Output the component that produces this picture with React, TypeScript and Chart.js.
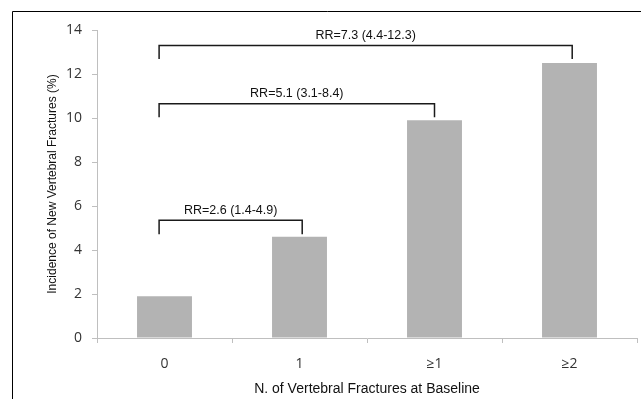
import React, { useEffect, useRef } from "react";
import { Chart, registerables } from "chart.js";

Chart.register(...registerables);

const categories = ["0", "1", "≥1", "≥2"];
const incidence = [1.9, 4.6, 9.9, 12.5];

const rrLabels = ["RR=2.6 (1.4-4.9)", "RR=5.1 (3.1-8.4)", "RR=7.3 (4.4-12.3)"];
const bracketFrom = [-0.04, -0.04, -0.04];
const bracketTo = [1.02, 2.0, 3.02];
const bracketTop = [5.35, 10.65, 13.3];
const bracketLegEnd = [4.72, 10.03, 12.68];

const yTitle = "Incidence of New Vertebral Fractures (%)";
const xTitle = "N. of Vertebral Fractures at Baseline";

const framePlugin = {
  id: "frame",
  beforeDraw(chart: any) {
    const ctx = chart.ctx;
    ctx.save();
    ctx.fillStyle = "#ffffff";
    ctx.fillRect(0, 0, chart.width, chart.height);
    ctx.strokeStyle = "#000000";
    ctx.lineWidth = 1;
    ctx.beginPath();
    ctx.moveTo(12.5, chart.height + 2);
    ctx.lineTo(12.5, 11.5);
    ctx.lineTo(chart.width + 2, 11.5);
    ctx.stroke();
    ctx.restore();
  },
};

const bracketPlugin = {
  id: "brackets",
  afterDatasetsDraw(chart: any) {
    const ctx = chart.ctx;
    const xs = chart.scales.x;
    const ys = chart.scales.y;
    ctx.save();
    ctx.strokeStyle = "#1a1a1a";
    ctx.lineWidth = 1.5;
    ctx.fillStyle = "#111111";
    ctx.font = "12.5px 'Liberation Sans', Arial, sans-serif";
    ctx.textAlign = "center";
    ctx.textBaseline = "middle";
    for (let i = 0; i < rrLabels.length; i++) {
      const x1 = xs.getPixelForValue(bracketFrom[i]);
      const x2 = xs.getPixelForValue(bracketTo[i]);
      const yt = ys.getPixelForValue(bracketTop[i]);
      const yb = ys.getPixelForValue(bracketLegEnd[i]);
      ctx.beginPath();
      ctx.moveTo(x1, yb);
      ctx.lineTo(x1, yt);
      ctx.lineTo(x2, yt);
      ctx.lineTo(x2, yb);
      ctx.stroke();
      ctx.fillText(rrLabels[i], (x1 + x2) / 2, yt - 10);
    }
    ctx.restore();
  },
};

export default function App() {
  const ref = useRef<HTMLCanvasElement>(null);
  useEffect(() => {
    if (!ref.current) return;
    const chart = new Chart(ref.current, {
      type: "bar",
      data: {
        labels: categories,
        datasets: [
          {
            data: incidence,
            backgroundColor: "#b3b3b3",
            borderWidth: 0,
            categoryPercentage: 1,
            barPercentage: 0.407,
          },
        ],
      },
      options: {
        animation: false,
        responsive: false,
        devicePixelRatio: 1,
        layout: { padding: { top: 30, right: 4, left: 0, bottom: 0 } },
        plugins: {
          legend: { display: false },
          tooltip: { enabled: false },
        },
        scales: {
          x: {
            grid: {
              drawOnChartArea: false,
              tickLength: 5,
              color: "#bfbfbf",
              offset: true,
            },
            border: { color: "#bfbfbf" },
            ticks: {
              color: "#333333",
              padding: 13,
              font: { family: "'Open Sans', sans-serif", size: 14 },
            },
            title: {
              display: true,
              text: xTitle,
              color: "#111111",
              font: { family: "'Liberation Sans', Arial, sans-serif", size: 14 },
              padding: { top: 0, bottom: 1 },
            },
            afterFit(scale: any) {
              scale.height = 61;
            },
          },
          y: {
            min: 0,
            max: 14,
            grid: {
              drawOnChartArea: false,
              tickLength: 5,
              color: "#bfbfbf",
            },
            border: { color: "#bfbfbf" },
            ticks: {
              stepSize: 2,
              color: "#333333",
              padding: 10,
              font: { family: "'Open Sans', sans-serif", size: 14 },
            },
            title: {
              display: true,
              text: yTitle,
              color: "#111111",
              font: { family: "'Liberation Sans', Arial, sans-serif", size: 12 },
              padding: { top: 45, bottom: 0 },
            },
            afterFit(scale: any) {
              scale.width = 97;
            },
          },
        },
      },
      plugins: [framePlugin, bracketPlugin],
    });
    return () => chart.destroy();
  }, []);
  return (
    <div style={{ position: "fixed", left: 0, top: 0, width: 641, height: 399, background: "#fff" }}>
      <canvas ref={ref} width={641} height={399} style={{ display: "block" }} />
    </div>
  );
}
